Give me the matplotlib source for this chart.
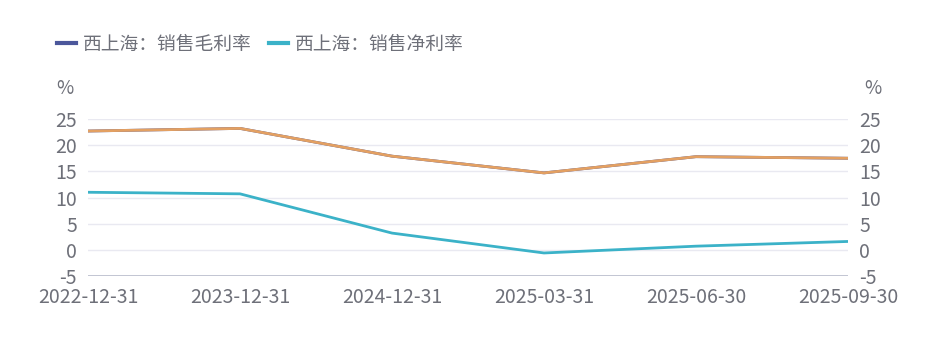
import matplotlib
matplotlib.use("Agg")
import matplotlib.pyplot as plt
from matplotlib.lines import Line2D

plt.rcParams['font.family'] = ['Noto Sans CJK SC', 'DejaVu Sans']

categories = ["2022-12-31", "2023-12-31", "2024-12-31", "2025-03-31", "2025-06-30", "2025-09-30"]
gross_margin = [22.7, 23.2, 17.9, 14.7, 17.8, 17.5]
net_margin = [11.0, 10.7, 3.2, -0.6, 0.7, 1.6]
series_names = ["西上海：销售毛利率", "西上海：销售净利率"]
yticks = [-5, 0, 5, 10, 15, 20, 25]

text_color = "#6e7079"
blue = "#4b579b"
teal = "#3bb2c8"
orange = "#e3a062"
grid_color = "#e9e9f1"

fig = plt.figure(figsize=(9.37, 3.39), dpi=100)
ax = fig.add_axes([88/937, 1-276/339, (848-88)/937, (276-119)/339])
x = list(range(len(categories)))

ax.plot(x, gross_margin, color=blue, lw=2, zorder=3)
ax.plot(x, net_margin, color=teal, lw=2, zorder=3)
ax2 = ax.twinx()
ax2.plot(x, gross_margin, color=orange, lw=2, zorder=4)

for a in (ax, ax2):
    a.set_ylim(-5, 25)
    a.set_yticks(yticks)
    a.set_xlim(0, len(categories)-1)
    for s in a.spines.values():
        s.set_visible(False)
    a.tick_params(axis='y', length=0, labelsize=14, labelcolor=text_color, pad=8)

ax.set_yticklabels([str(t) for t in yticks])
ax2.set_yticklabels([str(t) for t in yticks])
ax.set_xticks(x)
ax.set_xticklabels(categories)
ax.tick_params(axis='x', length=0, labelsize=14, labelcolor=text_color, pad=8)
ax.grid(axis='y', color=grid_color, lw=1)
ax.set_axisbelow(True)
ax.axhline(-5, color="#b9bccb", lw=1.2, zorder=2)

fig.text(65/937, 1-88/339, "%", color=text_color, fontsize=13.5, ha='center', va='center')
fig.text(873/937, 1-88/339, "%", color=text_color, fontsize=13.5, ha='center', va='center')

handles = [Line2D([0], [0], color=blue, lw=3), Line2D([0], [0], color=teal, lw=3)]
fig.legend(handles, series_names, loc='center left', bbox_to_anchor=(57/937, 1-44/339),
           ncol=2, frameon=False, fontsize=13.5, labelcolor=text_color,
           handlelength=1.0, handletextpad=0.4, columnspacing=0.9, borderpad=0, borderaxespad=0)

fig.savefig("out.png", dpi=100)
